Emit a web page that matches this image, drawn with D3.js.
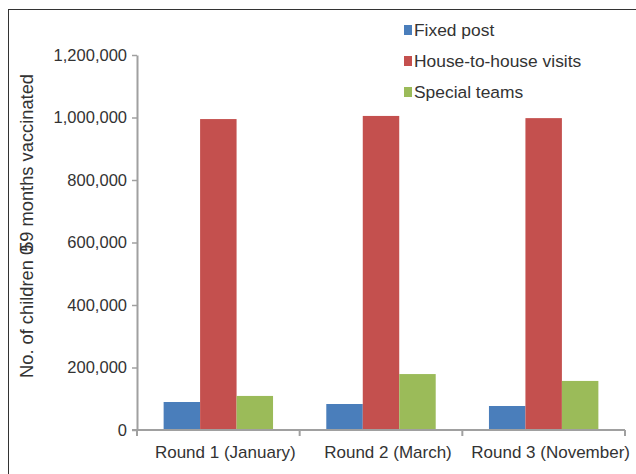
<!DOCTYPE html>
<html>
<head>
<meta charset="utf-8">
<script src="https://cdn.jsdelivr.net/npm/d3@7/dist/d3.min.js"></script>
<style>
  html, body { margin: 0; padding: 0; background: #fff; }
  svg { display: block; }
  text { font-family: "Liberation Sans", Arial, sans-serif; fill: #333; }
</style>
</head>
<body>
<svg id="chart" width="636" height="474"></svg>
<script>
const categories = ["Round 1 (January)", "Round 2 (March)", "Round 3 (November)"];
const seriesNames = ["Fixed post", "House-to-house visits", "Special teams"];
const fixedPost = [89600, 83200, 76800];
const houseToHouse = [995000, 1005000, 998000];
const specialTeams = [109000, 179000, 157000];
const colors = ["#4a7ebb", "#c4504e", "#9bbb59"];
const yTicks = [0, 200000, 400000, 600000, 800000, 1000000, 1200000];

const seriesValues = [fixedPost, houseToHouse, specialTeams];
const data = categories.map((c, i) => ({
  category: c,
  values: seriesNames.map((s, j) => ({ series: s, value: seriesValues[j][i], color: colors[j] }))
}));

const svg = d3.select("#chart");
const mLeft = 137, mRight = 625, mTop = 55, mBottom = 430;

// frame
svg.append("rect").attr("x", 8.5).attr("y", 9.5).attr("width", 700).attr("height", 600)
  .attr("fill", "none").attr("stroke", "#333").attr("stroke-width", 1);

const x0 = d3.scaleBand().domain(categories).range([mLeft, mRight]).paddingInner(0).paddingOuter(0);
const x1 = d3.scaleBand().domain(seriesNames).range([0, x0.bandwidth()]).paddingInner(0).paddingOuter(0.73);
const y = d3.scaleLinear().domain([0, 1200000]).range([mBottom, mTop]);

// bars
const groups = svg.append("g").selectAll("g").data(data).join("g")
  .attr("transform", d => `translate(${x0(d.category)},0)`);
groups.selectAll("rect").data(d => d.values).join("rect")
  .attr("x", d => x1(d.series))
  .attr("width", x1.bandwidth())
  .attr("y", d => y(d.value))
  .attr("height", d => y(0) - y(d.value))
  .attr("fill", d => d.color);

// y axis
const yAxis = svg.append("g").attr("transform", `translate(${mLeft},0)`)
  .call(d3.axisLeft(y).tickValues(yTicks).tickFormat(d3.format(",")).tickSize(5).tickSizeOuter(0).tickPadding(5));
yAxis.select(".domain").attr("stroke", "#a0a0a0").attr("stroke-width", 2);
yAxis.selectAll(".tick line").attr("stroke", "#a0a0a0").attr("stroke-width", 1.5);
yAxis.selectAll(".tick text").attr("font-size", "16.5px").attr("fill", "#333")
  .attr("font-family", "'Liberation Sans', Arial, sans-serif");

// x axis: tick marks at band boundaries
const xAxisG = svg.append("g");
xAxisG.append("line").attr("x1", mLeft - 5).attr("x2", mRight).attr("y1", mBottom).attr("y2", mBottom)
  .attr("stroke", "#a0a0a0").attr("stroke-width", 2);
const boundaries = categories.map(c => x0(c)).concat([x0(categories[categories.length - 1]) + x0.bandwidth()]);
xAxisG.selectAll("line.tk").data(boundaries).join("line").attr("class", "tk")
  .attr("x1", d => d).attr("x2", d => d).attr("y1", mBottom).attr("y2", mBottom + 6)
  .attr("stroke", "#a0a0a0").attr("stroke-width", 2);
xAxisG.selectAll("text").data(categories).join("text")
  .attr("x", d => x0(d) + x0.bandwidth() / 2 + 7)
  .attr("y", 458)
  .attr("text-anchor", "middle")
  .attr("font-size", "17px")
  .text(d => d);

// y title
const yt = svg.append("text")
  .attr("transform", "translate(33,226) rotate(-90)")
  .attr("text-anchor", "middle")
  .attr("font-size", "18.3px");
yt.append("tspan").text("No. of children 0");
yt.append("tspan").attr("dx", -7).text("59 months vaccinated");

// legend
const legend = svg.append("g").selectAll("g").data(seriesNames).join("g")
  .attr("transform", (d, i) => `translate(404,${30 + i * 31})`);
legend.append("rect").attr("x", 0).attr("y", -5).attr("width", 8).attr("height", 10)
  .attr("fill", (d, i) => colors[i]);
legend.append("text").attr("x", 10).attr("y", 6).attr("font-size", "17.4px").text(d => d);
</script>
</body>
</html>
